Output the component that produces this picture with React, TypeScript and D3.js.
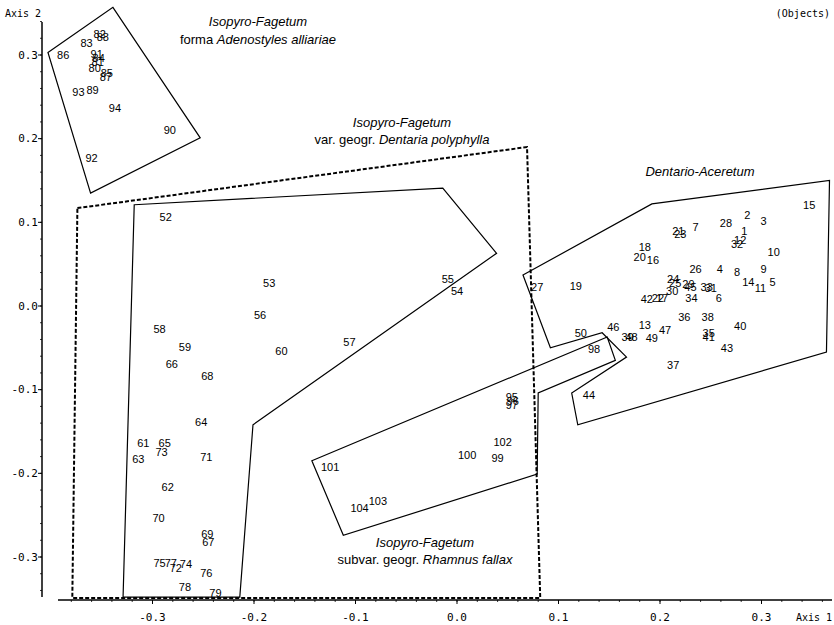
import React from "react";
import * as d3 from "d3";

// ---- data (ordination scores, Axis 1 / Axis 2) ----
type P = [string, number, number];

const adenostylesPts: P[] = [
  ["86", -0.388, 0.300], ["83", -0.365, 0.314], ["82", -0.352, 0.325], ["88", -0.349, 0.321],
  ["91", -0.355, 0.301], ["84", -0.353, 0.296], ["81", -0.354, 0.292], ["80", -0.357, 0.284],
  ["85", -0.345, 0.278], ["87", -0.346, 0.274], ["93", -0.373, 0.256], ["89", -0.359, 0.258],
  ["94", -0.337, 0.237], ["90", -0.283, 0.210], ["92", -0.360, 0.177],
];

const dentariaPts: P[] = [
  ["52", -0.287, 0.106], ["55", -0.009, 0.032], ["54", 0.000, 0.018], ["53", -0.185, 0.027],
  ["56", -0.194, -0.011], ["60", -0.173, -0.054], ["57", -0.106, -0.043], ["58", -0.293, -0.027],
  ["59", -0.268, -0.049], ["66", -0.281, -0.069], ["68", -0.246, -0.084], ["64", -0.252, -0.139],
  ["61", -0.309, -0.164], ["65", -0.288, -0.164], ["73", -0.291, -0.174], ["63", -0.314, -0.183],
  ["71", -0.247, -0.180], ["62", -0.285, -0.216], ["70", -0.294, -0.253], ["69", -0.246, -0.272],
  ["67", -0.245, -0.282], ["75", -0.293, -0.307], ["77", -0.282, -0.307], ["72", -0.277, -0.313],
  ["74", -0.267, -0.308], ["76", -0.247, -0.319], ["78", -0.268, -0.336], ["79", -0.238, -0.343],
];

const rhamnusPts: P[] = [
  ["101", -0.125, -0.192], ["104", -0.096, -0.241], ["103", -0.078, -0.233], ["100", 0.010, -0.178],
  ["102", 0.045, -0.162], ["99", 0.040, -0.182], ["95", 0.054, -0.109], ["96", 0.055, -0.113],
  ["97", 0.054, -0.118], ["98", 0.135, -0.051],
];

const aceretumPts: P[] = [
  ["27", 0.079, 0.023], ["19", 0.117, 0.024], ["50", 0.122, -0.032], ["46", 0.154, -0.025],
  ["44", 0.130, -0.106], ["18", 0.185, 0.070], ["20", 0.180, 0.059], ["16", 0.193, 0.055],
  ["21", 0.218, 0.090], ["23", 0.220, 0.086], ["7", 0.235, 0.094], ["28", 0.265, 0.099],
  ["2", 0.286, 0.109], ["3", 0.302, 0.102], ["1", 0.283, 0.090], ["12", 0.279, 0.079],
  ["32", 0.276, 0.074], ["10", 0.312, 0.065], ["15", 0.347, 0.121], ["26", 0.235, 0.044],
  ["4", 0.259, 0.044], ["8", 0.276, 0.041], ["9", 0.302, 0.044], ["14", 0.287, 0.029],
  ["11", 0.299, 0.022], ["5", 0.311, 0.029], ["24", 0.213, 0.032], ["25", 0.215, 0.027],
  ["29", 0.228, 0.026], ["45", 0.230, 0.023], ["30", 0.212, 0.018], ["33", 0.246, 0.023],
  ["31", 0.250, 0.022], ["42", 0.187, 0.008], ["22", 0.198, 0.010], ["17", 0.202, 0.010],
  ["34", 0.231, 0.010], ["6", 0.258, 0.010], ["36", 0.224, -0.013], ["38", 0.247, -0.013],
  ["40", 0.279, -0.024], ["13", 0.185, -0.023], ["47", 0.205, -0.029], ["39", 0.168, -0.037],
  ["48", 0.172, -0.037], ["35", 0.248, -0.032], ["41", 0.248, -0.037], ["49", 0.192, -0.038],
  ["43", 0.266, -0.050], ["37", 0.213, -0.070],
];

// group hulls (Axis 1, Axis 2)
const adenostylesHull: [number, number][] = [
  [-0.403, 0.303], [-0.339, 0.357], [-0.253, 0.201], [-0.361, 0.135],
];
const dentariaHull: [number, number][] = [
  [-0.318, 0.121], [-0.014, 0.141], [0.039, 0.063], [-0.201, -0.142], [-0.214, -0.348], [-0.329, -0.348],
];
const dentariaVarHull: [number, number][] = [
  [-0.374, 0.117], [0.069, 0.190], [0.082, -0.349], [-0.379, -0.349],
];
const rhamnusHull: [number, number][] = [
  [-0.143, -0.185], [0.148, -0.037], [0.156, -0.065], [0.080, -0.104], [0.079, -0.201], [-0.112, -0.274],
];
const aceretumHull: [number, number][] = [
  [0.065, 0.037], [0.192, 0.122], [0.367, 0.150], [0.364, -0.055], [0.119, -0.142],
  [0.113, -0.104], [0.167, -0.061], [0.143, -0.032], [0.092, -0.050],
];

const xTicks = [-0.3, -0.2, -0.1, 0.0, 0.1, 0.2, 0.3];
const yTicks = [-0.3, -0.2, -0.1, 0.0, 0.1, 0.2, 0.3];
const tickFmt = (v: number) => (v < 0 ? "-" : "") + Math.abs(v).toFixed(1);

export default function App() {
  const W = 834, H = 625;
  const x = d3.scaleLinear().domain([-0.3, 0.3]).range([152.5, 761.5]);
  const y = d3.scaleLinear().domain([-0.3, 0.3]).range([557, 55]);
  const line = d3.line<[number, number]>().x(d => x(d[0])).y(d => y(d[1])).curve(d3.curveLinearClosed);

  const axisX = 42, axisY = 600;
  const minorY = d3.range(-0.34, 0.341, 0.02);
  const minorX = d3.range(-0.38, 0.37, 0.02);

  const mono = "'DejaVu Sans Mono', monospace";
  const sans = "'Liberation Sans', Arial, sans-serif";

  const all = [...adenostylesPts, ...dentariaPts, ...rhamnusPts, ...aceretumPts];

  return (
    <svg width={W} height={H} style={{ position: "absolute", left: 0, top: 0, background: "#fff" }}>
      <rect width={W} height={H} fill="#fff" />
      {/* axes */}
      <line x1={axisX} x2={axisX} y1={22} y2={597} stroke="#000" strokeWidth={1.5} />
      <line x1={58} x2={832} y1={axisY} y2={axisY} stroke="#000" strokeWidth={1.5} />
      {minorY.map((v, i) => (
        <line key={"my" + i} x1={axisX - 2} x2={axisX} y1={y(v)} y2={y(v)} stroke="#000" strokeWidth={0.8} />
      ))}
      {minorX.map((v, i) => (
        <line key={"mx" + i} x1={x(v)} x2={x(v)} y1={axisY} y2={axisY + 2} stroke="#000" strokeWidth={0.8} />
      ))}
      {yTicks.map(v => (
        <g key={"yt" + v}>
          <line x1={axisX - 4} x2={axisX} y1={y(v)} y2={y(v)} stroke="#000" />
          <text x={axisX - 4} y={y(v)} textAnchor="end" dominantBaseline="central" fontFamily={mono} fontSize={11}>
            {tickFmt(v)}
          </text>
        </g>
      ))}
      {xTicks.map(v => (
        <g key={"xt" + v}>
          <line x1={x(v)} x2={x(v)} y1={axisY} y2={axisY + 4} stroke="#000" />
          <text x={x(v)} y={617} textAnchor="middle" dominantBaseline="central" fontFamily={mono} fontSize={11}>
            {tickFmt(v)}
          </text>
        </g>
      ))}
      <text x={5} y={13} dominantBaseline="central" fontFamily={mono} fontSize={10}>Axis  2</text>
      <text x={830} y={13} textAnchor="end" dominantBaseline="central" fontFamily={mono} fontSize={10}>(Objects)</text>
      <text x={832} y={617} textAnchor="end" dominantBaseline="central" fontFamily={mono} fontSize={10}>Axis  1</text>

      {/* hulls */}
      <path d={line(dentariaVarHull) || ""} fill="none" stroke="#000" strokeWidth={2} strokeDasharray="4,2" />
      <path d={line(adenostylesHull) || ""} fill="none" stroke="#000" strokeWidth={1.2} />
      <path d={line(dentariaHull) || ""} fill="none" stroke="#000" strokeWidth={1.2} />
      <path d={line(rhamnusHull) || ""} fill="none" stroke="#000" strokeWidth={1.2} />
      <path d={line(aceretumHull) || ""} fill="none" stroke="#000" strokeWidth={1.2} />

      {/* object labels */}
      {all.map((p, i) => (
        <text key={"p" + i} x={x(p[1])} y={y(p[2])} textAnchor="middle" dominantBaseline="central"
          fontFamily={sans} fontSize={11}>{p[0]}</text>
      ))}

      {/* group titles */}
      <g fontFamily={sans} fontSize={13} textAnchor="middle">
        <text x={258} y={26} fontStyle="italic">Isopyro-Fagetum</text>
        <text x={258} y={44}>forma <tspan fontStyle="italic">Adenostyles alliariae</tspan></text>
        <text x={402} y={127} fontStyle="italic">Isopyro-Fagetum</text>
        <text x={402} y={144}>var. geogr. <tspan fontStyle="italic">Dentaria polyphylla</tspan></text>
        <text x={700} y={176} fontStyle="italic">Dentario-Aceretum</text>
        <text x={425} y={547} fontStyle="italic">Isopyro-Fagetum</text>
        <text x={425} y={564}>subvar. geogr. <tspan fontStyle="italic">Rhamnus fallax</tspan></text>
      </g>
    </svg>
  );
}
